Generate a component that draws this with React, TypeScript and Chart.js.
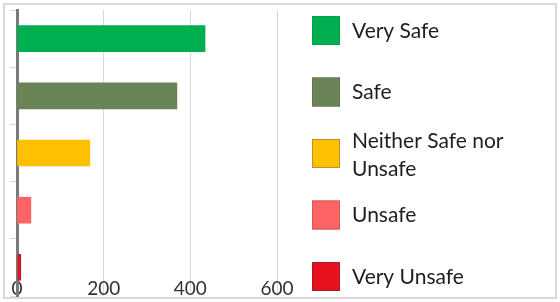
import React, { useEffect, useRef } from "react";
import { Chart, registerables } from "chart.js";

Chart.register(...registerables);

const categories = ["Very Safe", "Safe", "Neither Safe nor Unsafe", "Unsafe", "Very Unsafe"];
const legendLines = [["Very Safe"], ["Safe"], ["Neither Safe nor", "Unsafe"], ["Unsafe"], ["Very Unsafe"]];
const values = [434, 369, 168, 32, 9];
const barColors = ["#00b050", "#6a8458", "#ffc000", "#ff6464", "#e8101c"];
const outlineColors = ["#00a04a", "#5f7850", "#c09030", "#d05858", "#a02030"];
const xTicks = [0, 200, 400, 600];

const FONT = "Lato, 'Open Sans', sans-serif";

const framePlugin = {
  id: "frame",
  beforeDraw(chart: any) {
    const ctx = chart.ctx;
    ctx.save();
    ctx.fillStyle = "#ffffff";
    ctx.fillRect(0, 0, chart.width, chart.height);
    ctx.strokeStyle = "#d9d9d9";
    ctx.lineWidth = 2;
    ctx.strokeRect(4, 4, chart.width - 8, chart.height - 8);
    ctx.restore();
  },
};

const legendPlugin = {
  id: "sideLegend",
  afterDraw(chart: any) {
    const ctx = chart.ctx;
    const x0 = 312;
    const top0 = 16;
    const step = 61.5;
    const bw = 28;
    const bh = 29;
    ctx.save();
    ctx.font = `21px ${FONT}`;
    ctx.textBaseline = "middle";
    ctx.textAlign = "left";
    legendLines.forEach((lines, i) => {
      const y = top0 + i * step;
      ctx.fillStyle = barColors[i];
      ctx.fillRect(x0, y, bw, bh);
      ctx.strokeStyle = outlineColors[i];
      ctx.lineWidth = 1;
      ctx.strokeRect(x0 + 0.5, y + 0.5, bw - 1, bh - 1);
      ctx.fillStyle = "#1e1e1e";
      const cy = y + bh / 2 + 0.5;
      if (lines.length === 1) {
        ctx.fillText(lines[0], x0 + 40, cy);
      } else {
        ctx.fillText(lines[0], x0 + 40, cy - 13);
        ctx.fillText(lines[1], x0 + 40, cy + 15);
      }
    });
    ctx.restore();
  },
};

export default function App() {
  const ref = useRef<HTMLCanvasElement>(null);
  useEffect(() => {
    if (!ref.current) return;
    const chart = new Chart(ref.current, {
      type: "bar",
      data: {
        labels: categories,
        datasets: [
          {
            data: values,
            backgroundColor: barColors,
            borderColor: outlineColors,
            borderWidth: [0, 0, 0, 0, 1],
            barThickness: 26,
          },
        ],
      },
      options: {
        indexAxis: "y",
        responsive: false,
        animation: false,
        devicePixelRatio: 1,
        layout: { padding: { left: 10, right: 283, top: 10, bottom: 6 } },
        plugins: { legend: { display: false }, tooltip: { enabled: false } },
        scales: {
          x: {
            type: "linear",
            min: 0,
            max: 600,
            afterBuildTicks: (scale: any) => {
              scale.ticks = xTicks.map((v) => ({ value: v }));
            },
            afterFit: (scale: any) => {
              scale.height = 0;
            },
            grid: { color: "#d9d9d9", lineWidth: 1, drawTicks: false },
            border: { display: false },
            ticks: {
              mirror: true,
              padding: -4,
              color: "#333333",
              font: { family: FONT, size: 19 },
              maxRotation: 0,
            },
          },
          y: {
            type: "category",
            grid: {
              drawOnChartArea: false,
              drawTicks: true,
              tickLength: 7,
              color: "#d9d9d9",
              offset: true,
            },
            border: { display: true, color: "#7a7a7a", width: 3 },
            ticks: { display: false },
          },
        },
      },
      plugins: [framePlugin, legendPlugin],
    });
    return () => chart.destroy();
  }, []);
  return (
    <div style={{ position: "fixed", left: 0, top: 0, width: 560, height: 302 }}>
      <canvas ref={ref} width={560} height={302} style={{ display: "block", width: 560, height: 302 }} />
    </div>
  );
}
